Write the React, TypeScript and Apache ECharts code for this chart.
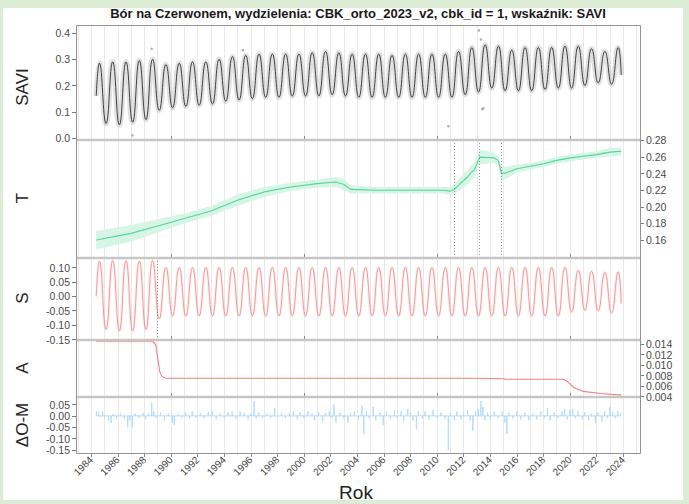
import React, { useEffect, useRef } from 'react';
import * as echarts from 'echarts';

const TITLE = 'Bór na Czerwonem, wydzielenia: CBK_orto_2023_v2, cbk_id = 1, wskaźnik: SAVI';
const X_LABEL = 'Rok';

// ---------- axis ticks ----------
const yearTicks = [1984, 1986, 1988, 1990, 1992, 1994, 1996, 1998, 2000, 2002, 2004, 2006, 2008, 2010, 2012, 2014, 2016, 2018, 2020, 2022, 2024];
const decadeTicks = [1990, 2000, 2010, 2020];
const saviTicks = [0, 0.1, 0.2, 0.3, 0.4];
const trendTicks = [0.16, 0.18, 0.2, 0.22, 0.24, 0.26, 0.28];
const seasonTicks = [-0.15, -0.1, -0.05, 0, 0.05, 0.1];
const ampTicks = [0.004, 0.006, 0.008, 0.01, 0.012, 0.014];
const residTicks = [-0.15, -0.1, -0.05, 0, 0.05];

// ---------- time span ----------
const seriesStart = 1984.38;
const seriesEnd = 2023.85;
const firstYear = 1984;
const peakPhase = 0.62;
const troughPhase = 0.12;

// ---------- SAVI (observed / fitted) ----------
// summer peaks 1984..2023
const saviPeak = [0.285, 0.29, 0.29, 0.295, 0.3, 0.28, 0.285, 0.29, 0.29, 0.3, 0.31, 0.315, 0.32, 0.32, 0.32, 0.32, 0.325, 0.33, 0.325, 0.32, 0.32, 0.32, 0.315, 0.32, 0.32, 0.32, 0.32, 0.33, 0.345, 0.355, 0.35, 0.335, 0.345, 0.345, 0.345, 0.35, 0.35, 0.34, 0.33, 0.345];
// winter troughs 1985..2023
const saviTrough = [0.055, 0.05, 0.06, 0.07, 0.105, 0.115, 0.12, 0.125, 0.13, 0.14, 0.145, 0.15, 0.155, 0.155, 0.16, 0.16, 0.16, 0.165, 0.16, 0.155, 0.155, 0.155, 0.155, 0.155, 0.155, 0.155, 0.155, 0.165, 0.175, 0.19, 0.18, 0.18, 0.18, 0.185, 0.19, 0.19, 0.2, 0.21, 0.205];
const saviStart = 0.16;
const saviEnd = 0.24;
const saviOutliers: [number, number][] = [
  [1987.1, 0.01], [1988.55, 0.34], [1995.4, 0.335], [2010.85, 0.045], [2013.15, 0.41], [2013.4, 0.11], [2013.5, 0.113], [2013.3, 0.375]
];

// ---------- T (trend) ----------
const trendT = [1984.38, 1987.0, 1989.0, 1991.0, 1993.0, 1995.0, 1997.0, 1999.0, 2001.0, 2002.4, 2003.0, 2003.5, 2005.5, 2008.0, 2010.5, 2011.0, 2011.3, 2011.8, 2012.3, 2012.6, 2012.8, 2013.2, 2014.3, 2014.6, 2014.85, 2015.2, 2016.0, 2017.0, 2018.0, 2019.0, 2020.0, 2021.0, 2022.0, 2023.0, 2023.85];
const trendV = [0.16, 0.168, 0.177, 0.186, 0.195, 0.208, 0.218, 0.224, 0.228, 0.23, 0.227, 0.221, 0.22, 0.22, 0.22, 0.219, 0.221, 0.229, 0.236, 0.242, 0.244, 0.26, 0.259, 0.256, 0.24, 0.241, 0.246, 0.249, 0.252, 0.256, 0.259, 0.261, 0.263, 0.266, 0.267];
const trendHalf = [0.011, 0.01, 0.008, 0.006, 0.006, 0.007, 0.006, 0.005, 0.005, 0.006, 0.007, 0.005, 0.004, 0.004, 0.004, 0.005, 0.006, 0.008, 0.009, 0.009, 0.009, 0.009, 0.006, 0.006, 0.008, 0.007, 0.005, 0.004, 0.004, 0.004, 0.004, 0.004, 0.004, 0.005, 0.005];
const trendBreaks = [2011.3, 2013.2, 2014.8];

// ---------- S (season) ----------
const seasonPeak = [0.122, 0.124, 0.124, 0.122, 0.124, 0.1, 0.1, 0.1, 0.1, 0.1, 0.1, 0.1, 0.1, 0.1, 0.1, 0.1, 0.1, 0.1, 0.1, 0.1, 0.1, 0.1, 0.1, 0.1, 0.1, 0.1, 0.1, 0.1, 0.1, 0.1, 0.1, 0.1, 0.1, 0.1, 0.1, 0.1, 0.09, 0.087, 0.083, 0.085];
const seasonTrough = [-0.115, -0.12, -0.12, -0.115, -0.078, -0.068, -0.068, -0.068, -0.068, -0.068, -0.068, -0.068, -0.068, -0.068, -0.068, -0.068, -0.068, -0.068, -0.068, -0.068, -0.068, -0.068, -0.068, -0.068, -0.068, -0.068, -0.068, -0.068, -0.068, -0.068, -0.068, -0.068, -0.068, -0.068, -0.068, -0.055, -0.048, -0.05, -0.058];
const seasonStart = 0;
const seasonEnd = -0.025;
const seasonBreaks = [1989.0];

// ---------- A (amplitude) ----------
const ampT = [1984.38, 1988.6, 1988.85, 1989.0, 1989.15, 1989.3, 1989.6, 2012.7, 2015.0, 2015.2, 2019.5, 2019.8, 2020.3, 2021.0, 2022.3, 2023.85];
const ampV = [0.0146, 0.0146, 0.0139, 0.0115, 0.0088, 0.0079, 0.0075, 0.0075, 0.0074, 0.0073, 0.0073, 0.0069, 0.0057, 0.005, 0.0046, 0.0043];
const ampHalf = [0.00025, 0.00025, 0.00025, 0.0002, 0.0001, 0.00005, 0.00004, 0.00004, 0.00005, 0.00004, 0.00004, 0.00006, 0.00008, 0.00006, 0.00005, 0.00005];

// ---------- ΔO-M (residuals) ----------
const residuals: [number, number][] = [
  [1984.4, 0.02], [1984.55, 0.015], [1984.7, -0.005], [1984.85, 0.018], [1985.0, -0.01], [1985.3, -0.02], [1985.5, -0.03], [1985.65, 0.008], [1985.9, -0.012],
  [1986.2, 0.01], [1986.5, -0.015], [1986.75, -0.05], [1986.9, -0.02], [1987.1, -0.05], [1987.3, 0.01], [1987.6, -0.01], [1987.9, 0.012], [1988.1, -0.015],
  [1988.3, 0.01], [1988.55, 0.06], [1988.7, 0.02], [1988.9, -0.01], [1989.2, 0.015], [1989.5, -0.02], [1989.8, 0.01], [1990.1, -0.03], [1990.25, -0.04],
  [1990.5, 0.008], [1990.8, -0.01], [1991.1, 0.015], [1991.4, -0.012], [1991.6, 0.02], [1991.9, -0.008], [1992.2, 0.012], [1992.5, -0.01], [1992.8, 0.015],
  [1993.1, 0.02], [1993.4, -0.015], [1993.7, 0.01], [1994.0, -0.01], [1994.3, 0.015], [1994.6, 0.02], [1994.9, -0.012], [1995.2, 0.02], [1995.5, 0.012],
  [1995.8, -0.015], [1996.0, 0.01], [1996.25, 0.065], [1996.4, -0.01], [1996.6, 0.015], [1996.9, -0.008], [1997.2, 0.01], [1997.5, -0.01], [1997.8, 0.035],
  [1998.0, -0.005], [1998.3, 0.01], [1998.6, -0.01], [1998.9, 0.012], [1999.2, 0.02], [1999.5, -0.015], [1999.7, 0.015], [2000.0, -0.01], [2000.3, 0.02],
  [2000.6, 0.01], [2000.8, -0.02], [2001.1, 0.015], [2001.4, -0.025], [2001.6, 0.012], [2001.9, 0.02], [2002.1, -0.01], [2002.25, 0.05], [2002.4, -0.03],
  [2002.7, 0.015], [2003.0, -0.01], [2003.3, -0.03], [2003.5, 0.012], [2003.8, 0.02], [2004.1, -0.015], [2004.35, 0.045], [2004.5, -0.08], [2004.7, 0.02],
  [2004.9, -0.01], [2005.2, 0.04], [2005.4, -0.02], [2005.7, 0.015], [2005.95, -0.04], [2006.2, 0.02], [2006.5, -0.015], [2006.8, 0.025], [2007.0, -0.01],
  [2007.3, 0.02], [2007.5, -0.02], [2007.8, 0.03], [2008.0, 0.015], [2008.2, -0.02], [2008.45, -0.06], [2008.6, 0.02], [2008.9, -0.012], [2009.1, 0.02],
  [2009.4, -0.015], [2009.7, 0.025], [2010.0, -0.01], [2010.3, 0.015], [2010.6, -0.012], [2010.85, -0.15], [2011.0, 0.01], [2011.3, -0.02], [2011.5, 0.02],
  [2011.8, -0.015], [2012.0, 0.015], [2012.3, 0.025], [2012.5, -0.02], [2012.7, -0.065], [2012.9, 0.02], [2013.1, 0.03], [2013.3, 0.065], [2013.45, 0.04],
  [2013.6, -0.02], [2013.8, 0.015], [2014.0, -0.015], [2014.3, 0.02], [2014.6, -0.01], [2014.9, 0.02], [2015.1, -0.03], [2015.25, -0.08], [2015.4, 0.015],
  [2015.7, -0.01], [2016.0, 0.02], [2016.3, -0.015], [2016.6, 0.015], [2016.9, -0.02], [2017.2, 0.01], [2017.5, -0.015], [2017.8, 0.02], [2018.1, -0.01],
  [2018.3, 0.035], [2018.5, -0.02], [2018.8, 0.015], [2019.1, -0.01], [2019.4, 0.02], [2019.6, 0.03], [2019.8, -0.015], [2020.0, 0.025], [2020.2, 0.03],
  [2020.4, -0.01], [2020.6, 0.02], [2020.9, -0.015], [2021.1, 0.015], [2021.4, -0.02], [2021.6, 0.01], [2021.9, -0.03], [2022.1, 0.015], [2022.4, -0.025],
  [2022.6, 0.02], [2022.8, -0.01], [2023.0, 0.04], [2023.2, 0.015], [2023.4, -0.01], [2023.6, 0.02], [2023.8, 0.012]
];

// ---------- layout ----------
const X_MIN = 1982.86;
const X_MAX = 2025.26;
const PLOT_LEFT = 76;
const PLOT_RIGHT = 640;
const FONT = '"Liberation Sans", Arial, sans-serif';

type Panel = { top: number; bottom: number; min: number; max: number; side: 'left' | 'right'; ticks: number[]; dec: number; name: string; nameY: number };
const PANELS: Panel[] = [
  { top: 25, bottom: 140, min: -0.0076, max: 0.4305, side: 'left', ticks: saviTicks, dec: 1, name: 'SAVI', nameY: 87 },
  { top: 140, bottom: 258, min: 0.1383, max: 0.2806, side: 'right', ticks: trendTicks, dec: 2, name: 'T', nameY: 198 },
  { top: 258, bottom: 340, min: -0.1517, max: 0.133, side: 'left', ticks: seasonTicks, dec: 2, name: 'S', nameY: 298 },
  { top: 340, bottom: 397, min: 0.00394, max: 0.01476, side: 'right', ticks: ampTicks, dec: 3, name: 'A', nameY: 368 },
  { top: 397, bottom: 453, min: -0.1632, max: 0.083, side: 'left', ticks: residTicks, dec: 2, name: 'ΔO-M', nameY: 425 }
];
const A_PANEL = 3;

function cycleCurve(start: number, peaks: number[], troughs: number[], end: number): [number, number][] {
  const pts: [number, number][] = [[seriesStart, start]];
  peaks.forEach((p, i) => {
    pts.push([firstYear + i + peakPhase, p]);
    if (i < troughs.length) pts.push([firstYear + i + 1 + troughPhase, troughs[i]]);
  });
  pts.push([seriesEnd, end]);
  return pts;
}

// confidence band drawn as one polygon through the axis scales
function bandSeries(k: number, t: number[], v: number[], half: number[], color: string) {
  return {
    type: 'custom', xAxisIndex: 2 * k, yAxisIndex: k, silent: true, clip: false, z: 1,
    data: [[t[0], v[0]]],
    renderItem: (_params: any, api: any) => {
      const upper = t.map((x, i) => api.coord([x, v[i] + half[i]]));
      const lower = t.map((x, i) => api.coord([x, v[i] - half[i]])).reverse();
      return { type: 'polygon', shape: { points: upper.concat(lower) }, style: { fill: color, stroke: 'none' } };
    }
  };
}

function yLabel(p: Panel, values: number[]) {
  return {
    show: true, customValues: values, fontSize: 10.5, color: '#4a4a4a', margin: 6, fontFamily: FONT,
    showMinLabel: true, showMaxLabel: true, hideOverlap: false, formatter: (v: number) => v.toFixed(p.dec)
  };
}

function buildOption() {
  const gridOf = (p: Panel) => ({
    left: PLOT_LEFT, top: p.top, width: PLOT_RIGHT - PLOT_LEFT, height: p.bottom - p.top,
    containLabel: false, outerBoundsMode: 'none', show: false
  });
  const grids: any[] = PANELS.map(gridOf);
  // overlay grid for the A panel: carries every second label so that the tight labels are not dropped
  grids.push(gridOf(PANELS[A_PANEL]));

  const xAxes: any[] = [];
  PANELS.forEach((_p, k) => {
    const last = k === PANELS.length - 1;
    xAxes.push({
      type: 'value', gridIndex: k, min: X_MIN, max: X_MAX, minInterval: 1, maxInterval: 1, position: 'top',
      axisLine: { show: false }, axisTick: { show: false }, axisLabel: { show: false },
      splitLine: { show: true, lineStyle: { color: '#e9e9e9', width: 1 } }
    });
    xAxes.push({
      type: 'value', gridIndex: k, min: X_MIN, max: X_MAX, position: 'bottom',
      axisLine: { show: false }, splitLine: { show: false },
      axisTick: { show: true, inside: !last, length: 4, customValues: last ? yearTicks : decadeTicks, lineStyle: { color: '#8a8a8a' } },
      axisLabel: last
        ? { show: true, customValues: yearTicks, rotate: 45, fontSize: 10, color: '#444', margin: 5, fontFamily: FONT,
            showMinLabel: true, showMaxLabel: true, hideOverlap: false, formatter: (v: number) => String(Math.round(v)) }
        : { show: false }
    });
  });
  xAxes.push({ type: 'value', gridIndex: PANELS.length, min: X_MIN, max: X_MAX, show: false });

  const evenA = ampTicks.filter((_v, i) => i % 2 === 0);
  const oddA = ampTicks.filter((_v, i) => i % 2 === 1);

  const yAxes: any[] = PANELS.map((p, k) => ({
    type: 'value', gridIndex: k, min: p.min, max: p.max, position: p.side,
    axisLine: { show: false }, splitLine: { show: false },
    axisTick: { show: true, length: 4, customValues: p.ticks, lineStyle: { color: '#7a7a7a' } },
    axisLabel: yLabel(p, k === A_PANEL ? evenA : p.ticks)
  }));
  const pa = PANELS[A_PANEL];
  yAxes.push({
    type: 'value', gridIndex: PANELS.length, min: pa.min, max: pa.max, position: 'right',
    axisLine: { show: false }, splitLine: { show: false }, axisTick: { show: false },
    axisLabel: yLabel(pa, oddA)
  });

  const saviCurve = cycleCurve(saviStart, saviPeak, saviTrough, saviEnd);
  const seasonCurve = cycleCurve(seasonStart, seasonPeak, seasonTrough, seasonEnd);
  const residLine: [number, number][] = [[seriesStart, 0]];
  residuals.forEach(([t, v]) => { residLine.push([t, 0], [t, v], [t, 0]); });
  residLine.push([seriesEnd, 0]);

  const breakLine = (xs: number[]) => ({
    silent: true, symbol: ['none', 'none'], label: { show: false },
    lineStyle: { type: [1, 2], color: '#777', width: 0.8 }, emphasis: { disabled: true },
    data: xs.map((x) => ({ xAxis: x }))
  });

  const series: any[] = [
    // SAVI
    { type: 'line', xAxisIndex: 0, yAxisIndex: 0, data: saviCurve, smooth: 0.5, symbol: 'none', silent: true, clip: false,
      lineStyle: { color: 'rgba(175,175,175,0.38)', width: 5.5 } },
    { type: 'line', xAxisIndex: 0, yAxisIndex: 0, data: saviCurve, smooth: 0.5, symbol: 'none', silent: true, clip: false,
      lineStyle: { color: '#2e2e2e', width: 0.9 } },
    { type: 'scatter', xAxisIndex: 0, yAxisIndex: 0, data: saviOutliers, symbolSize: 2.5, silent: true, clip: false,
      itemStyle: { color: '#9a9a9a' } },
    // T
    bandSeries(1, trendT, trendV, trendHalf, '#d6f5e5'),
    { type: 'line', xAxisIndex: 2, yAxisIndex: 1, data: trendT.map((x, i) => [x, trendV[i]]), symbol: 'none', silent: true, clip: false,
      lineStyle: { color: '#55d49d', width: 1.1 }, markLine: breakLine(trendBreaks) },
    // S
    { type: 'line', xAxisIndex: 4, yAxisIndex: 2, data: seasonCurve, smooth: 0.5, symbol: 'none', silent: true, clip: false,
      lineStyle: { color: 'rgba(242,139,139,0.14)', width: 3 } },
    { type: 'line', xAxisIndex: 4, yAxisIndex: 2, data: seasonCurve, smooth: 0.5, symbol: 'none', silent: true, clip: false,
      lineStyle: { color: '#f29090', width: 0.9 }, markLine: breakLine(seasonBreaks) },
    // A
    bandSeries(3, ampT, ampV, ampHalf, '#f8c9c9'),
    { type: 'line', xAxisIndex: 6, yAxisIndex: 3, data: ampT.map((x, i) => [x, ampV[i]]), symbol: 'none', silent: true, clip: false,
      lineStyle: { color: '#f08585', width: 1.1 } },
    // ΔO-M
    { type: 'line', xAxisIndex: 8, yAxisIndex: 4, data: residLine, symbol: 'none', silent: true, clip: false,
      lineStyle: { color: '#b2dbfc', width: 1 } }
  ];

  const graphics: any[] = [
    { type: 'text', x: (PLOT_LEFT + PLOT_RIGHT) / 2, y: 13, silent: true,
      style: { text: TITLE, fill: '#1a1a1a', font: `bold 13px ${FONT}`, align: 'center', verticalAlign: 'middle' } },
    { type: 'text', x: (PLOT_LEFT + PLOT_RIGHT) / 2 - 2, y: 492, silent: true,
      style: { text: X_LABEL, fill: '#222', font: `19px ${FONT}`, align: 'center', verticalAlign: 'middle' } },
    ...PANELS.map((p) => ({
      type: 'text', x: 22, y: p.nameY, rotation: Math.PI / 2, silent: true,
      style: { text: p.name, fill: '#222', font: `17px ${FONT}`, align: 'center', verticalAlign: 'middle' }
    })),
    ...PANELS.slice(1).map((p) => ({
      type: 'line', silent: true, z: 100,
      shape: { x1: PLOT_LEFT, y1: p.top, x2: PLOT_RIGHT, y2: p.top },
      style: { stroke: '#c6c6c6', lineWidth: 2.5 }
    })),
    { type: 'rect', silent: true, z: 101,
      shape: { x: PLOT_LEFT + 0.5, y: PANELS[0].top + 0.5, width: PLOT_RIGHT - PLOT_LEFT, height: PANELS[PANELS.length - 1].bottom - PANELS[0].top },
      style: { fill: 'none', stroke: '#939393', lineWidth: 1 } }
  ];

  return {
    animation: false,
    backgroundColor: 'transparent',
    textStyle: { fontFamily: FONT },
    grid: grids,
    xAxis: xAxes,
    yAxis: yAxes,
    series,
    graphic: graphics
  };
}

export default function App() {
  const ref = useRef<HTMLDivElement>(null);
  useEffect(() => {
    if (!ref.current) return;
    const chart = echarts.init(ref.current, null, { renderer: 'svg' });
    chart.setOption(buildOption() as any);
    return () => chart.dispose();
  }, []);
  return (
    <div style={{ position: 'fixed', left: 0, top: 0, width: 689, height: 504, background: '#dcebd4', overflow: 'hidden' }}>
      <div style={{ position: 'absolute', left: 3, top: 8, width: 680, height: 492, background: '#ffffff' }} />
      <div ref={ref} style={{ position: 'absolute', left: 0, top: 0, width: 689, height: 504 }} />
    </div>
  );
}
